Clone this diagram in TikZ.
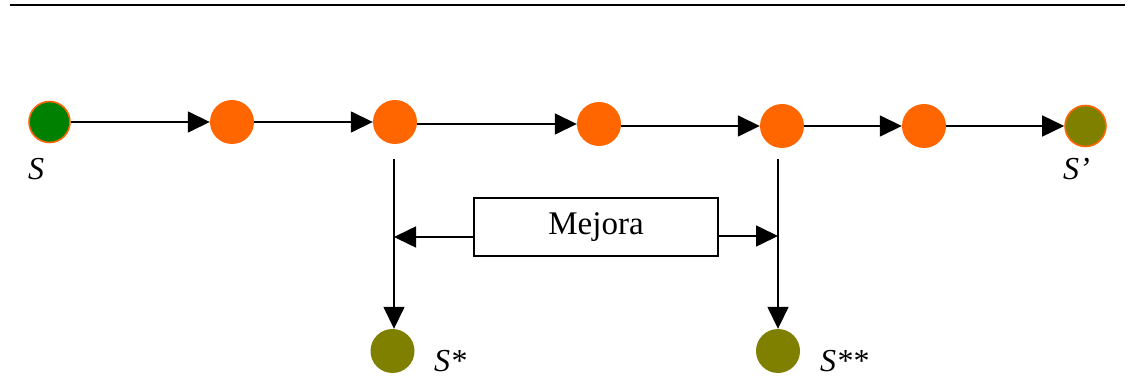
\documentclass[tikz,border=0pt]{standalone}
\usepackage{fontspec}
\setmainfont{Liberation Serif}
\usetikzlibrary{arrows.meta,calc}
\definecolor{stateorange}{RGB}{255,102,0}
\definecolor{stategreen}{RGB}{0,128,0}
\definecolor{stateolive}{RGB}{128,128,0}
\tikzset{
  state/.style={circle, minimum size=44pt, inner sep=0pt},
  plain/.style={state, fill=stateorange},
  startst/.style={state, fill=stategreen, draw=stateorange, line width=1.6pt, minimum size=41pt},
  endst/.style={state, fill=stateolive, draw=stateorange, line width=1.6pt, minimum size=41pt},
  bestst/.style={state, fill=stateolive},
  flow/.style={line width=1.6pt, -{Triangle[length=22pt,width=21pt]}},
  lbl/.style={font=\fontsize{32}{38}\selectfont\itshape, inner sep=0pt, anchor=base west},
}
\begin{document}
\begin{tikzpicture}[x=1pt,y=-1pt]
\useasboundingbox (0,0) rectangle (1140,387);
% header rule
\draw[line width=2pt] (10,5) -- (1125,5);

% main search path
\node[startst] (s)  at (49.5,122) {};
\node[plain]   (n2) at (232,122) {};
\node[plain]   (n3) at (395,122) {};
\node[plain]   (n4) at (599,124) {};
\node[plain]   (n5) at (782,126) {};
\node[plain]   (n6) at (924,126) {};
\node[endst]   (sp) at (1085.5,126) {};

\draw[flow] (s.east)  -- (n2.west);
\draw[flow] (n2.east) -- (n3.west);
\draw[flow] (n3.east |- n4) -- (n4.west);
\draw[flow] (n4.east |- n5) -- (n5.west);
\draw[flow] (n5.east) -- (n6.west);
\draw[flow] (n6.east) -- (sp.west);

% improved solutions
\node[bestst] (b1) at (392.5,351) {};
\node[bestst] (b2) at (778,351) {};

\coordinate (v1) at (394,159);
\coordinate (v2) at (778,159);
\draw[flow] (v1) -- (b1.north -| v1);
\draw[flow] (v2) -- (b2.north -| v2);

% improvement step
\node[draw, line width=1.2pt, minimum width=244pt, minimum height=58pt,
      font=\fontsize{33}{40}\selectfont] (mj) at (596,227) {Mejora};
\coordinate (m1) at (mj.west |- 0,237);
\coordinate (m2) at (mj.east |- 0,236);
\draw[flow] (m1) -- (m1 -| v1);
\draw[flow] (m2) -- (m2 -| v2);

% labels
\node[lbl] (ls)  at (28,180)   {S};
\node[lbl] (lsp) at (1063,180) {S’};
\node[lbl] (lb1) at (434,371)  {S*};
\node[lbl] (lb2) at (820,371)  {S**};
\end{tikzpicture}
\end{document}
